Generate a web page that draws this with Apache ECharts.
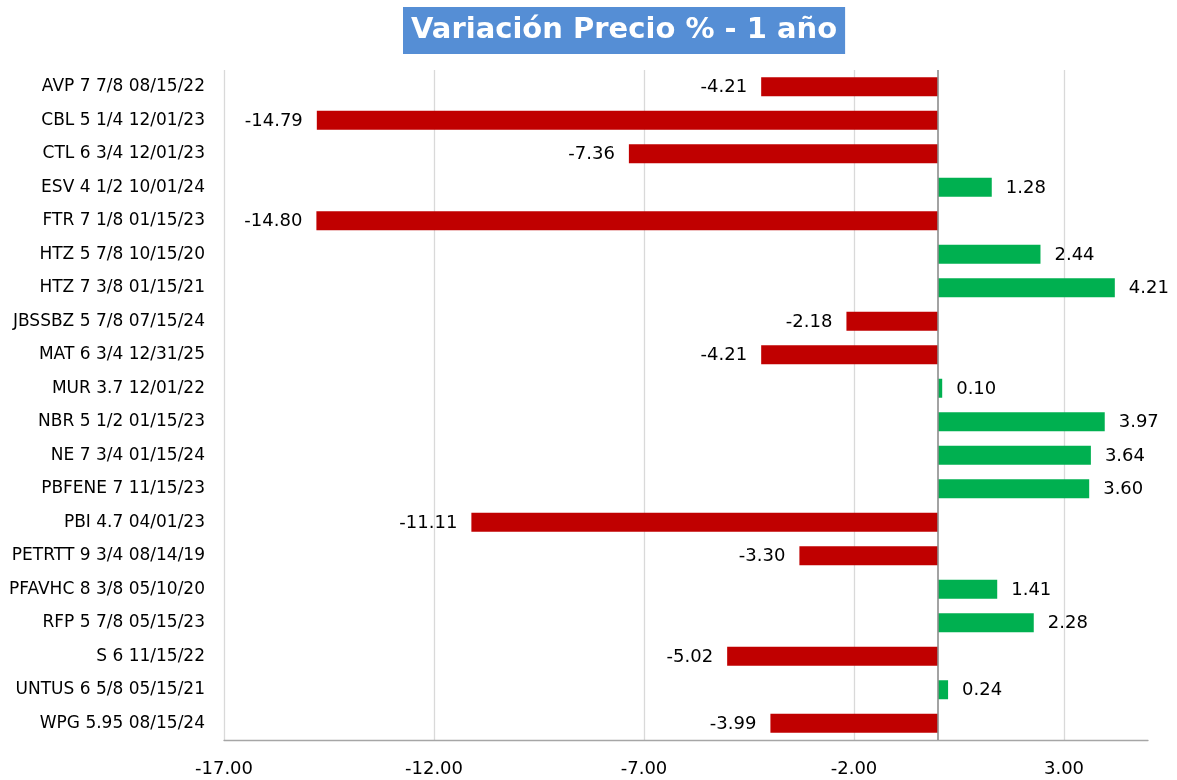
<!DOCTYPE html>
<html>
<head>
<meta charset="utf-8">
<script src="https://cdn.jsdelivr.net/npm/echarts@6/dist/echarts.min.js"></script>
<style>html,body{margin:0;padding:0;background:#fff}#chart{width:1177px;height:780px}</style>
</head>
<body>
<div id="chart"></div>
<script>
const categories = [
  "AVP 7 7/8 08/15/22","CBL 5 1/4 12/01/23","CTL 6 3/4 12/01/23","ESV 4 1/2 10/01/24",
  "FTR 7 1/8 01/15/23","HTZ 5 7/8 10/15/20","HTZ 7 3/8 01/15/21","JBSSBZ 5 7/8 07/15/24",
  "MAT 6 3/4 12/31/25","MUR 3.7 12/01/22","NBR 5 1/2 01/15/23","NE 7 3/4 01/15/24",
  "PBFENE 7 11/15/23","PBI 4.7 04/01/23","PETRTT 9 3/4 08/14/19","PFAVHC 8 3/8 05/10/20",
  "RFP 5 7/8 05/15/23","S 6 11/15/22","UNTUS 6 5/8 05/15/21","WPG 5.95 08/15/24"
];
const values = [-4.21,-14.79,-7.36,1.28,-14.80,2.44,4.21,-2.18,-4.21,0.10,3.97,3.64,3.60,-11.11,-3.30,1.41,2.28,-5.02,0.24,-3.99];
const xTicks = [-17,-12,-7,-2,3];

const FONT = "'DejaVu Sans', Verdana, sans-serif";
const chart = echarts.init(document.getElementById('chart'));
const data = values.map(v => ({
  value: v,
  itemStyle: { color: v < 0 ? '#c00000' : '#00b050' },
  label: { position: v < 0 ? 'left' : 'right' }
}));
chart.setOption({
  animation: false,
  title: {
    text: 'Variación Precio % - 1 año',
    left: 403, top: 7,
    backgroundColor: '#558ed5',
    padding: [6, 8, 6, 8],
    textStyle: { color: '#fff', fontSize: 29, fontWeight: 'bold', fontFamily: FONT, lineHeight: 35 }
  },
  grid: { left: 224, right: 29, top: 70, bottom: 40, containLabel: false },
  xAxis: {
    type: 'value', min: -17, max: 5,
    axisLine: { show: true, onZero: false, lineStyle: { color: '#a6a6a6', width: 1.3 } },
    axisTick: { show: false, customValues: xTicks },
    splitLine: { show: true, lineStyle: { color: '#d9d9d9', width: 1.3 } },
    axisLabel: {
      customValues: xTicks,
      formatter: v => v.toFixed(2),
      color: '#000', fontSize: 18, fontFamily: FONT, margin: 20
    }
  },
  yAxis: {
    type: 'category', data: categories, inverse: true,
    axisLine: { show: false },
    axisTick: { show: false },
    axisLabel: { color: '#000', fontSize: 17, fontFamily: FONT, margin: 19 }
  },
  series: [{
    type: 'bar', data: data, barWidth: 19,
    label: {
      show: true, distance: 14, color: '#000', fontSize: 18, fontFamily: FONT,
      offset: [0, 1],
      formatter: p => p.value.toFixed(2)
    },
    markLine: {
      silent: true, symbol: 'none',
      label: { show: false },
      lineStyle: { color: '#8c8c8c', width: 1.6, type: 'solid' },
      data: [{ xAxis: 0 }]
    }
  }]
});
</script>
</body>
</html>
